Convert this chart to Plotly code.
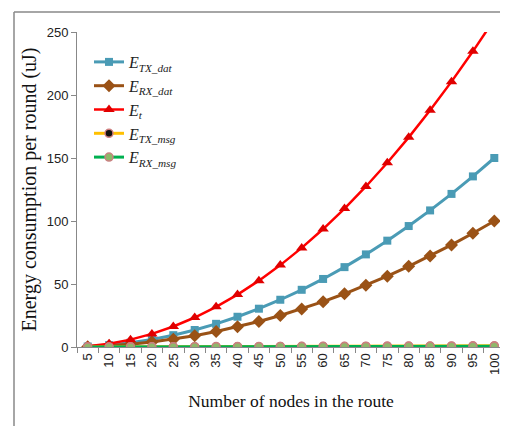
import plotly.graph_objects as go

nodes = [5, 10, 15, 20, 25, 30, 35, 40, 45, 50, 55, 60, 65, 70, 75, 80, 85, 90, 95, 100]
categories = [str(n) for n in nodes]

e_tx_dat = [0.4, 1.5, 3.4, 6.0, 9.4, 13.5, 18.4, 24.0, 30.4, 37.5, 45.4, 54.0, 63.4, 73.5, 84.4, 96.0, 108.4, 121.5, 135.4, 150.0]
e_rx_dat = [0.25, 1.0, 2.25, 4.0, 6.25, 9.0, 12.25, 16.0, 20.25, 25.0, 30.25, 36.0, 42.25, 49.0, 56.25, 64.0, 72.25, 81.0, 90.25, 100.0]
e_t = [0.65, 2.6, 5.85, 10.4, 16.25, 23.4, 31.85, 41.6, 52.65, 65.0, 78.65, 93.6, 109.85, 127.4, 146.25, 166.4, 187.85, 210.6, 234.65, 260.0]
e_tx_msg = [0.02, 0.05, 0.1, 0.15, 0.2, 0.25, 0.3, 0.35, 0.4, 0.45, 0.5, 0.55, 0.6, 0.65, 0.7, 0.75, 0.8, 0.85, 0.9, 0.95]
e_rx_msg = [0.01, 0.03, 0.06, 0.1, 0.13, 0.16, 0.2, 0.23, 0.26, 0.3, 0.33, 0.36, 0.4, 0.43, 0.46, 0.5, 0.53, 0.56, 0.6, 0.63]

names = [
    "<i>E</i><sub><i>TX_dat</i></sub>",
    "<i>E</i><sub><i>RX_dat</i></sub>",
    "<i>E</i><sub><i>t</i></sub>",
    "<i>E</i><sub><i>TX_msg</i></sub>",
    "<i>E</i><sub><i>RX_msg</i></sub>",
]

fig = go.Figure()
fig.add_trace(go.Scatter(x=categories, y=e_tx_dat, name=names[0], mode="lines+markers",
                         line=dict(color="#4A9BB5", width=3),
                         marker=dict(symbol="square", size=8, color="#4A9BB5")))
fig.add_trace(go.Scatter(x=categories, y=e_rx_dat, name=names[1], mode="lines+markers",
                         line=dict(color="#9A5216", width=3),
                         marker=dict(symbol="diamond", size=10, color="#9A5216")))
fig.add_trace(go.Scatter(x=categories, y=e_t, name=names[2], mode="lines+markers",
                         line=dict(color="#FF0000", width=2.5),
                         marker=dict(symbol="triangle-up", size=10, color="#E00000")))
fig.add_trace(go.Scatter(x=categories, y=e_tx_msg, name=names[3], mode="lines+markers",
                         line=dict(color="#FFC000", width=3),
                         marker=dict(symbol="circle", size=8, color="#111111",
                                     line=dict(color="#D08080", width=1.5))))
fig.add_trace(go.Scatter(x=categories, y=e_rx_msg, name=names[4], mode="lines+markers",
                         line=dict(color="#00B050", width=3),
                         marker=dict(symbol="circle", size=8, color="#8FB86A",
                                     line=dict(color="#C98080", width=1.5))))

# page body has an 8 px default margin; figure is placed at (8, 8)
OFF = 8
W, H = 500, 418
ml, mr, mt, mb = 77 - OFF, 3, 32 - OFF, 79
pw, ph = W - ml - mr, H - mt - mb

def px_x(x):
    return (x - OFF - ml) / pw

def px_y(y):
    return (H - mb - (y - OFF)) / ph

fig.update_layout(
    width=W, height=H,
    margin=dict(l=ml, r=mr, t=mt, b=mb, autoexpand=False),
    paper_bgcolor="white", plot_bgcolor="white",
    showlegend=True,
    legend=dict(x=px_x(89), y=px_y(45), xanchor="left", yanchor="top",
                bgcolor="rgba(255,255,255,0)",
                font=dict(family="Liberation Serif", size=16, color="#222222"),
                itemwidth=30, tracegroupgap=0),
    xaxis=dict(type="category", range=[-0.5, 19.5], showgrid=False, automargin=False,
               showline=True, linecolor="#888888", linewidth=1,
               ticks="outside", ticklen=5, tickcolor="#888888", tickson="boundaries",
               tickangle=-90,
               tickfont=dict(family="Liberation Sans", size=13, color="#222222"),
               title=dict(text="Number of nodes in the route",
                          font=dict(family="Liberation Serif", size=17.5, color="#111111"),
                          standoff=20)),
    yaxis=dict(range=[0, 250], dtick=50, showgrid=False, zeroline=False, automargin=False,
               showline=True, linecolor="#888888", linewidth=1,
               ticks="outside", ticklen=5, tickcolor="#888888",
               tickfont=dict(family="Liberation Sans", size=13, color="#222222"),
               title=dict(text="Energy consumption per round (uJ)",
                          font=dict(family="Liberation Serif", size=20, color="#111111"),
                          standoff=4)),
    shapes=[
        dict(type="line", xref="paper", yref="paper", x0=px_x(14), x1=px_x(510),
             y0=px_y(12), y1=px_y(12), line=dict(color="#888888", width=1.5)),
        dict(type="line", xref="paper", yref="paper", x0=px_x(14), x1=px_x(14),
             y0=px_y(12), y1=px_y(430), line=dict(color="#888888", width=1.5)),
    ],
)

fig.write_html("out.html")
